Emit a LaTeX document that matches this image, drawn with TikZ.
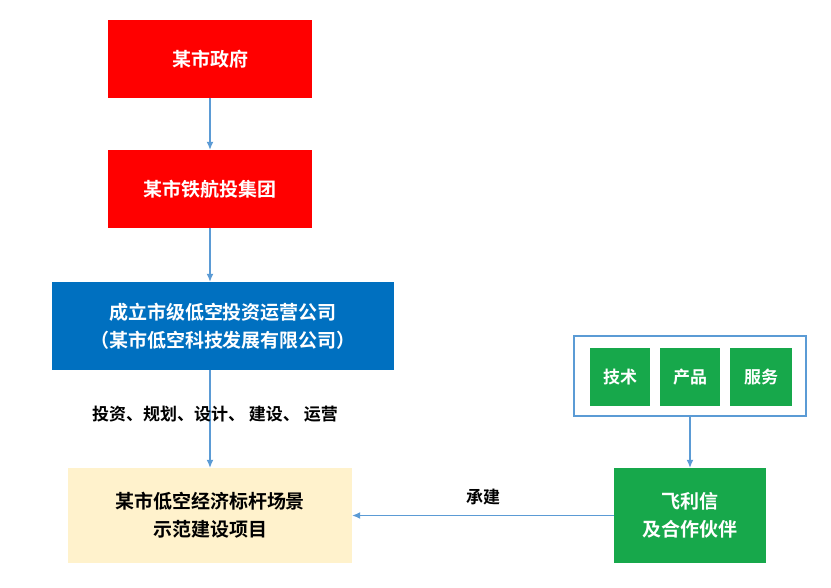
\documentclass[tikz,border=0pt]{standalone}
\usepackage{fontspec}
\newfontfamily\cjk{Noto Sans CJK SC}[BoldFont={Noto Sans CJK SC Bold}]
\begin{document}
\begin{tikzpicture}[x=1pt,y=-1pt,
 box/.style={draw=none,minimum width=#1,inner sep=0pt,align=center,font=\cjk\bfseries\fontsize{19}{28}\selectfont},
 arr/.style={draw=cyan!40!blue!60!white,line width=1.2pt,-{Latex[length=7pt,width=6pt]}}]
\usetikzlibrary{arrows.meta}
\useasboundingbox (0,0) rectangle (831,588);
\fill[white] (0,0) rectangle (831,588);
\definecolor{rd}{HTML}{FF0000}\definecolor{bl}{HTML}{0070C0}
\definecolor{gr}{HTML}{17A84B}\definecolor{yl}{HTML}{FFF2CC}\definecolor{ar}{HTML}{5B9BD5}
\tikzset{arr/.style={draw=ar,line width=1.2pt,-{Latex[length=8pt,width=7pt]}}}
\node[box=204pt,minimum height=78pt,fill=rd,text=white] (a) at (210,59) {某市政府};
\node[box=204pt,minimum height=78pt,fill=rd,text=white] (b) at (210,189) {某市铁航投集团};
\node[box=342pt,minimum height=88pt,fill=bl,text=white] (c) at (223,326) {成立市级低空投资运营公司\\（某市低空科技发展有限公司）};
\node[box=284pt,minimum height=95pt,fill=yl,text=black] (d) at (210,515.5) {某市低空经济标杆场景\\示范建设项目};
\node[box=152pt,minimum height=95pt,fill=gr,text=white] (e) at (690,515.5) {飞利信\\及合作伙伴};
\node[draw=ar,line width=1.5pt,minimum width=232pt,minimum height=80pt,inner sep=0pt] (f) at (690,376) {};
\node[box=60pt,minimum height=58pt,fill=gr,text=white,font=\cjk\bfseries\fontsize{17}{20}\selectfont] (t1) at (620,377) {技术};
\node[box=60pt,minimum height=58pt,fill=gr,text=white,font=\cjk\bfseries\fontsize{17}{20}\selectfont] (t2) at (690,377) {产品};
\node[box=62pt,minimum height=58pt,fill=gr,text=white,font=\cjk\bfseries\fontsize{17}{20}\selectfont] (t3) at (761,377) {服务};
\draw[arr] (a) -- (b);
\draw[arr] (b) -- (b|-c.north);
\draw[arr] (c.south-|d.north) -- (d);
\node[font=\cjk\bfseries\fontsize{17}{20}\selectfont] (l1) at (215,414) {投资、规划、设计、 建设、 运营};
\draw[arr] (f) -- (e);
\draw[arr] (e) -- (d);
\node[font=\cjk\bfseries\fontsize{17}{20}\selectfont] (l2) at (483,497) {承建};
\end{tikzpicture}
\end{document}
